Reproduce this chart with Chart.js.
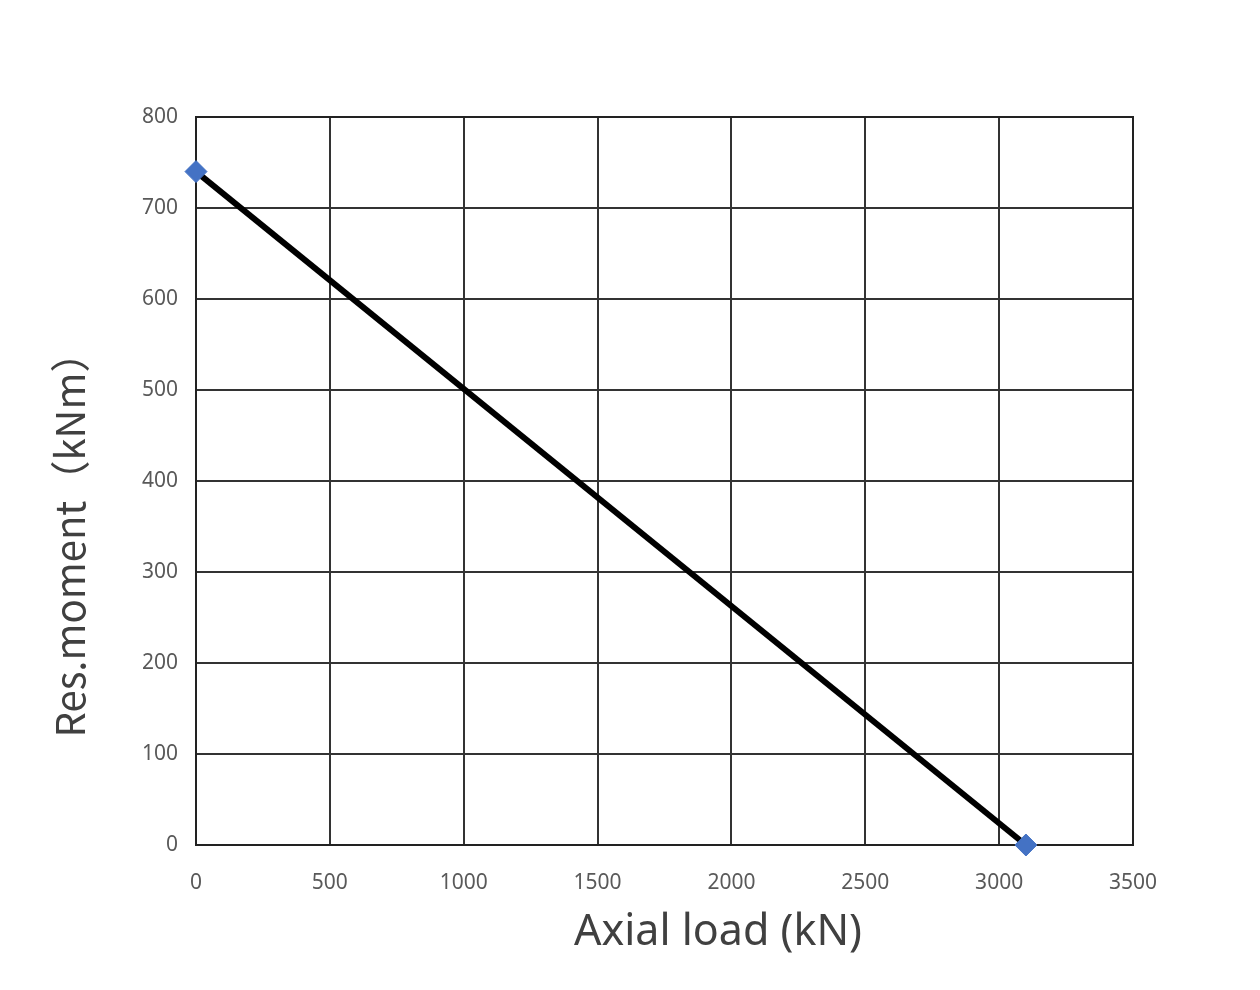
<!DOCTYPE html>
<html>
<head>
<meta charset="utf-8">
<script src="https://cdn.jsdelivr.net/npm/chart.js@4"></script>
<style>
  html, body { margin: 0; padding: 0; background: #fff; }
  #wrap { width: 1260px; height: 990px; }
</style>
</head>
<body>
<div id="wrap"><canvas id="chart"></canvas></div>
<script>
// interaction curve: axial load vs resisting moment
const axialLoad = [0, 3100];
const resMoment = [740, 0];
const xTicks = [0, 500, 1000, 1500, 2000, 2500, 3000, 3500];
const yTicks = [0, 100, 200, 300, 400, 500, 600, 700, 800];
const xTitle = "Axial load (kN)";
const yTitle = "Res.moment（kNm）";

// axis titles sit off-centre in the original, so draw them here
const axisTitles = {
  id: "axisTitles",
  afterDraw(chart) {
    const c = chart.ctx;
    c.save();
    c.fillStyle = "#404040";
    c.textAlign = "center";
    c.textBaseline = "middle";
    c.font = "43px 'Noto Sans'";
    c.fillText(xTitle, 718, 933);
    c.translate(70, 535);
    c.rotate(-Math.PI / 2);
    c.font = "40px 'Noto Sans CJK SC'";
    c.fillText(yTitle, 0, 0);
    c.restore();
  },
};

// plot frame drawn under the line
const frame = {
  id: "frame",
  beforeDatasetsDraw(chart) {
    const a = chart.chartArea;
    const c = chart.ctx;
    c.save();
    c.strokeStyle = "#222222";
    c.lineWidth = 2;
    c.strokeRect(a.left, a.top, a.right - a.left, a.bottom - a.top);
    c.restore();
  },
};

document.addEventListener("DOMContentLoaded", function () {
  const ctx = document.getElementById("chart").getContext("2d");

  new Chart(ctx, {
    type: "scatter",
    data: {
      datasets: [
        {
          data: axialLoad.map((x, i) => ({ x: x, y: resMoment[i] })),
          showLine: true,
          borderColor: "#000000",
          borderWidth: 6,
          pointStyle: "rectRot",
          pointRadius: 11,
          pointBackgroundColor: "#4472C4",
          pointBorderColor: "#4472C4",
          pointBorderWidth: 1,
          clip: false,
        },
      ],
    },
    options: {
      responsive: true,
      maintainAspectRatio: false,
      animation: false,
      layout: { padding: { left: 0, top: 117, right: 127, bottom: 0 } },
      plugins: {
        legend: { display: false },
        tooltip: { enabled: false },
      },
      scales: {
        x: {
          type: "linear",
          min: 0,
          max: 3500,
          afterFit: (s) => { s.height = 145; },
          afterBuildTicks: (s) => { s.ticks = xTicks.map((v) => ({ value: v })); },
          ticks: {
            padding: 25,
            color: "#595959",
            font: { family: "Noto Sans", size: 21 },
            callback: (v) => String(v),
          },
          grid: { color: "#333333", lineWidth: 2, drawTicks: false },
          border: { color: "#222222", width: 2 },
        },
        y: {
          type: "linear",
          min: 0,
          max: 800,
          afterFit: (s) => { s.width = 196; },
          afterBuildTicks: (s) => { s.ticks = yTicks.map((v) => ({ value: v })); },
          ticks: {
            padding: 18,
            color: "#595959",
            font: { family: "Noto Sans", size: 21 },
            callback: (v) => String(v),
          },
          grid: { color: "#333333", lineWidth: 2, drawTicks: false },
          border: { color: "#222222", width: 2 },
        },
      },
    },
    plugins: [frame, axisTitles],
  });
});
</script>
</body>
</html>
